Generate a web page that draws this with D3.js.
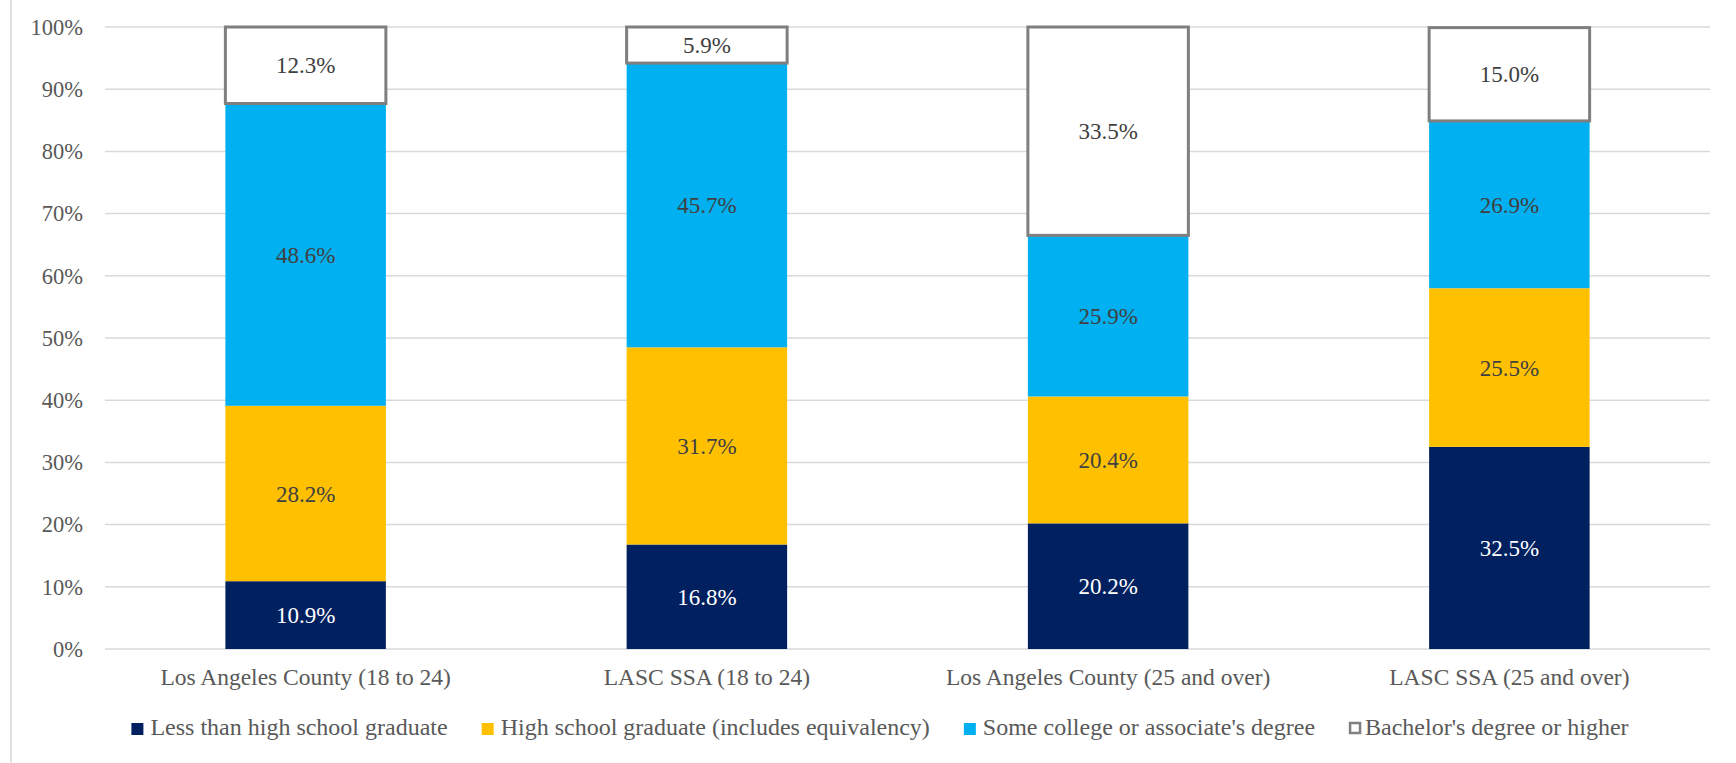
<!DOCTYPE html>
<html lang="en">
<head>
    <meta charset="UTF-8">
    <title>Educational Attainment</title>
    <script src="https://d3js.org/d3.v7.min.js"></script>
    <style>
        body {
            margin: 0;
            background: #fff;
        }
        svg text {
            font-family: "Liberation Serif", "Times New Roman", "DejaVu Serif", serif;
        }
        .tick-label, .cat-label, .legend text {
            fill: #595959;
        }
    </style>
</head>
<body>
    <div id="chart"></div>

    <script>
        // Chart data
        const categories = [
            "Los Angeles County (18 to 24)",
            "LASC SSA (18 to 24)",
            "Los Angeles County (25 and over)",
            "LASC SSA (25 and over)"
        ];
        const seriesNames = [
            "Less than high school graduate",
            "High school graduate (includes equivalency)",
            "Some college or associate's degree",
            "Bachelor's degree or higher"
        ];
        const lessThanHS = [10.9, 16.8, 20.2, 32.5];
        const hsGraduate = [28.2, 31.7, 20.4, 25.5];
        const someCollege = [48.6, 45.7, 25.9, 26.9];
        const bachelors = [12.3, 5.9, 33.5, 15.0];
        const yTicks = [0, 10, 20, 30, 40, 50, 60, 70, 80, 90, 100];

        const fills = ["#002060", "#FFC000", "#00B0F0", "#FFFFFF"];
        const labelColors = ["#FFFFFF", "#404040", "#404040", "#404040"];
        const fontFam = "'Liberation Serif', 'Times New Roman', 'DejaVu Serif', serif";

        const W = 1736, H = 763;
        const plot = { left: 105, right: 1710, top: 27, bottom: 649 };

        const svg = d3.select("#chart")
            .append("svg")
            .attr("width", W)
            .attr("height", H)
            .attr("font-family", fontFam);

        // chart area frame (only left edge shows)
        svg.append("line")
            .attr("x1", 11).attr("x2", 11)
            .attr("y1", 0).attr("y2", H)
            .attr("stroke", "#D9D9D9")
            .attr("stroke-width", 1.5);

        const x = d3.scaleBand()
            .domain(categories)
            .range([plot.left, plot.right])
            .paddingInner(0.6)
            .paddingOuter(0.3);

        const y = d3.scaleLinear()
            .domain([0, 100])
            .range([plot.bottom, plot.top]);

        // gridlines
        svg.append("g")
            .selectAll("line")
            .data(yTicks)
            .join("line")
            .attr("x1", plot.left)
            .attr("x2", plot.right)
            .attr("y1", d => y(d))
            .attr("y2", d => y(d))
            .attr("stroke", "#D9D9D9")
            .attr("stroke-width", 1.5);

        // y tick labels
        svg.append("g")
            .selectAll("text")
            .data(yTicks)
            .join("text")
            .attr("class", "tick-label")
            .attr("x", plot.left - 22)
            .attr("y", d => y(d))
            .attr("dy", "0.35em")
            .attr("text-anchor", "end")
            .style("font-family", fontFam)
            .style("font-size", "22.5px")
            .text(d => d + "%");

        // stacked data
        const table = categories.map((c, i) => ({
            cat: c,
            s0: lessThanHS[i],
            s1: hsGraduate[i],
            s2: someCollege[i],
            s3: bachelors[i]
        }));
        const stacked = d3.stack().keys(["s0", "s1", "s2", "s3"])(table);

        const layers = svg.append("g")
            .selectAll("g")
            .data(stacked)
            .join("g");

        layers.selectAll("rect")
            .data((d, k) => d.map(p => ({ p, k })))
            .join("rect")
            .attr("x", d => x(d.p.data.cat))
            .attr("width", x.bandwidth())
            .attr("y", d => y(Math.min(d.p[1], 100)))
            .attr("height", d => y(d.p[0]) - y(Math.min(d.p[1], 100)))
            .attr("fill", d => fills[d.k])
            .attr("stroke", d => d.k === 3 ? "#7F7F7F" : "none")
            .attr("stroke-width", 3);

        // value labels
        layers.selectAll("text")
            .data((d, k) => d.map(p => ({ p, k })))
            .join("text")
            .attr("x", d => x(d.p.data.cat) + x.bandwidth() / 2)
            .attr("y", d => y((d.p[0] + d.p[1]) / 2))
            .attr("dy", "0.35em")
            .attr("text-anchor", "middle")
            .attr("fill", d => labelColors[d.k])
            .style("font-family", fontFam)
            .style("font-size", "23px")
            .text(d => (d.p[1] - d.p[0]).toFixed(1) + "%");

        // category labels
        svg.append("g")
            .selectAll("text")
            .data(categories)
            .join("text")
            .attr("class", "cat-label")
            .attr("x", d => x(d) + x.bandwidth() / 2)
            .attr("y", 685)
            .attr("text-anchor", "middle")
            .style("font-family", fontFam)
            .style("font-size", "23.5px")
            .text(d => d);

        // legend, laid out from measured text widths
        const legend = svg.append("g").attr("class", "legend");
        const items = seriesNames.map((name, i) => {
            const g = legend.append("g");
            g.append("rect")
                .attr("x", i === 3 ? 1 : 0)
                .attr("y", 723)
                .attr("width", i === 3 ? 10 : 12)
                .attr("height", i === 3 ? 10 : 12)
                .attr("fill", fills[i])
                .attr("stroke", i === 3 ? "#7F7F7F" : "none")
                .attr("stroke-width", 2.5);
            const t = g.append("text")
                .attr("x", i === 3 ? 16 : 19)
                .attr("y", 735)
                .style("font-family", fontFam)
                .style("font-size", "24px")
                .text(name);
            return { g, w: (i === 3 ? 16 : 19) + t.node().getComputedTextLength() };
        });
        const gap = 34;
        const total = d3.sum(items, d => d.w) + gap * (items.length - 1);
        let cx = 880 - total / 2;
        items.forEach(it => {
            it.g.attr("transform", `translate(${cx},0)`);
            cx += it.w + gap;
        });
    </script>
</body>
</html>
